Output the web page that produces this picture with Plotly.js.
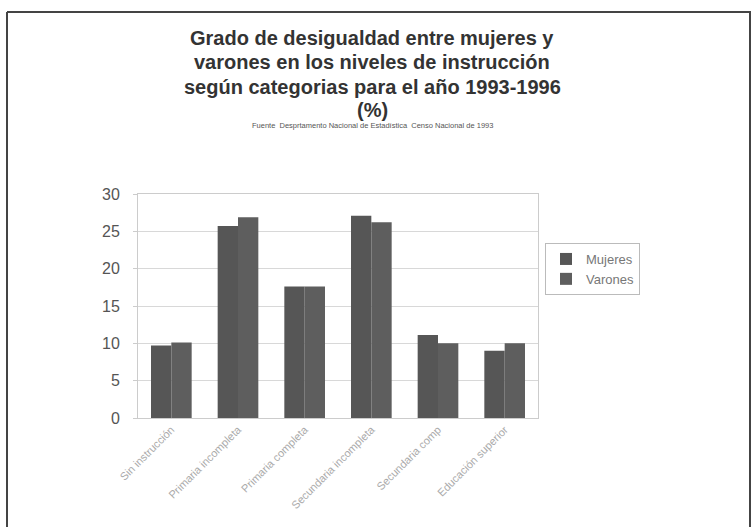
<!DOCTYPE html>
<html>
<head>
<meta charset="utf-8">
<script src="https://cdn.plot.ly/plotly-3.0.1.min.js"></script>
<style>html,body{margin:0;padding:0;background:#fff;}#chart{width:756px;height:527px;}</style>
</head>
<body>
<div id="chart"></div>
<script>
const categories = ["Sin instrucción", "Primaria incompleta", "Primaria completa", "Secundaria incompleta", "Secundaria comp", "Educación superior"];
const mujeres = [9.7, 25.7, 17.6, 27.1, 11.1, 9.0];
const varones = [10.1, 26.9, 17.6, 26.2, 10.0, 10.0];
const yTicks = [0, 5, 10, 15, 20, 25, 30];

const L = 138, R = 538, T = 194, B = 418, W = 756, H = 527;
const px = x => (x - L) / (R - L);
const py = y => (B - y) / (B - T);

const traces = [
  {type: 'bar', name: 'Mujeres', x: categories, y: mujeres, marker: {color: '#565656'}},
  {type: 'bar', name: 'Varones', x: categories, y: varones, marker: {color: '#5e5e5e'}}
];

const titleFont = {family: 'Liberation Sans, Arial, sans-serif', size: 20, color: '#333'};
const titleLines = ["<b>Grado de desigualdad entre mujeres y</b>", "<b>varones en los niveles de instrucción</b>", "<b>según categorias para el año 1993-1996</b>", "<b>(%)</b>"];
const titleYs = [38, 62, 87, 110];
const annotations = titleLines.map((t, i) => ({
  text: t, xref: 'paper', yref: 'paper', x: px(372), y: py(titleYs[i]),
  xanchor: 'center', yanchor: 'middle', showarrow: false, font: titleFont
}));
annotations.push({
  text: "Fuente  Desprtamento Nacional de Estadística  Censo Nacional de 1993",
  xref: 'paper', yref: 'paper', x: px(372), y: py(125), xanchor: 'center', yanchor: 'middle',
  showarrow: false, font: {family: 'Liberation Sans, Arial, sans-serif', size: 7.5, color: '#555'}
});

const layout = {
  width: W, height: H,
  margin: {l: L, r: W - R, t: T, b: H - B, pad: 0},
  paper_bgcolor: '#fff', plot_bgcolor: '#fff',
  showlegend: true,
  legend: {x: px(545), y: py(243), xanchor: 'left', yanchor: 'top', bgcolor: '#fff',
    bordercolor: '#bbb', borderwidth: 1, font: {family: 'Liberation Sans, Arial, sans-serif', size: 13, color: '#777'},
    itemwidth: 30, tracegroupgap: 2},
  barmode: 'group', bargap: 0.39, bargroupgap: 0,
  xaxis: {type: 'category', tickangle: -45, showgrid: false, showline: true, linecolor: '#ccc', mirror: true,
    tickfont: {family: 'Liberation Sans, Arial, sans-serif', size: 11, color: '#aaa'}, ticks: ''},
  yaxis: {range: [0, 30], tickvals: yTicks, showgrid: true, gridcolor: '#d8d8d8', showline: true, linecolor: '#ccc', mirror: true,
    zeroline: false, ticks: 'outside', ticklen: 4, tickcolor: '#ccc', ticklabelstandoff: 10,
    tickfont: {family: 'Liberation Sans, Arial, sans-serif', size: 16, color: '#555'}},
  annotations: annotations,
  shapes: [
    {type: 'line', xref: 'paper', yref: 'paper', x0: px(7), x1: px(751), y0: py(12), y1: py(12), line: {color: '#444', width: 2}},
    {type: 'line', xref: 'paper', yref: 'paper', x0: px(7), x1: px(7), y0: py(12), y1: py(527), line: {color: '#444', width: 2}},
    {type: 'line', xref: 'paper', yref: 'paper', x0: px(750), x1: px(750), y0: py(12), y1: py(527), line: {color: '#444', width: 2}}
  ]
};

Plotly.newPlot('chart', traces, layout, {displayModeBar: false, staticPlot: true});
</script>
</body>
</html>
